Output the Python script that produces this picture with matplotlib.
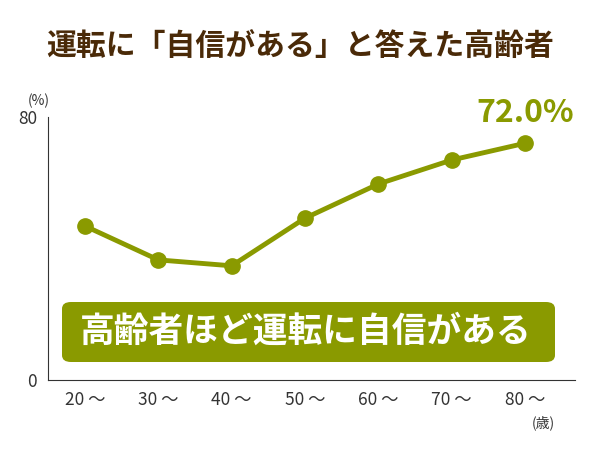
import matplotlib.pyplot as plt
from matplotlib.patches import FancyBboxPatch

plt.rcParams['font.family'] = ['Noto Sans CJK JP', 'DejaVu Sans']

ages = ["20 ～", "30 ～", "40 ～", "50 ～", "60 ～", "70 ～", "80 ～"]
values = [46.8, 36.5, 34.7, 49.2, 59.6, 66.9, 72.0]

olive = "#8a9a00"
brown = "#4a2a08"

fig = plt.figure(figsize=(6, 4.5), dpi=100)
ax = fig.add_axes([0.08, 0.156, 0.878, 0.584])
x = list(range(len(ages)))
ax.plot(x, values, color=olive, lw=3.5, marker="o", ms=11, zorder=3)
ax.set_xlim(-0.505, 6.68)
ax.set_ylim(0, 80)
ax.set_yticks([0, 80])
ax.set_xticks(x)
ax.set_xticklabels(ages, fontsize=12.5, color="#333333")
ax.tick_params(length=0, pad=8, labelsize=12.5, colors="#333333")
for s in ["top", "right"]:
    ax.spines[s].set_visible(False)
ax.spines["left"].set_color("#333333")
ax.spines["bottom"].set_color("#333333")

ax.annotate("72.0%", (6, values[-1]), xytext=(0, 10), textcoords="offset points",
            ha="center", va="bottom", color=olive, fontsize=23, fontweight="bold")

fig.text(0.5, 0.895, "運転に「自信がある」と答えた高齢者", ha="center", va="center",
         fontsize=21.5, fontweight="bold", color=brown)
fig.text(0.065, 0.775, "(%)", ha="center", va="center", fontsize=10, color="#333333")
fig.text(0.905, 0.06, "(歳)", ha="center", va="center", fontsize=10, color="#333333")

box = FancyBboxPatch((62 / 600, 1 - 362 / 450), (555 - 62) / 600, 60 / 450,
                     boxstyle="round,pad=0,rounding_size=0.015",
                     transform=fig.transFigure, facecolor=olive, edgecolor="none", zorder=5)
fig.patches.append(box)
fig.text(306 / 600, 1 - 331 / 450, "高齢者ほど運転に自信がある", ha="center", va="center",
         fontsize=25, fontweight="bold", color="white", zorder=6)

fig.savefig("out.png")
